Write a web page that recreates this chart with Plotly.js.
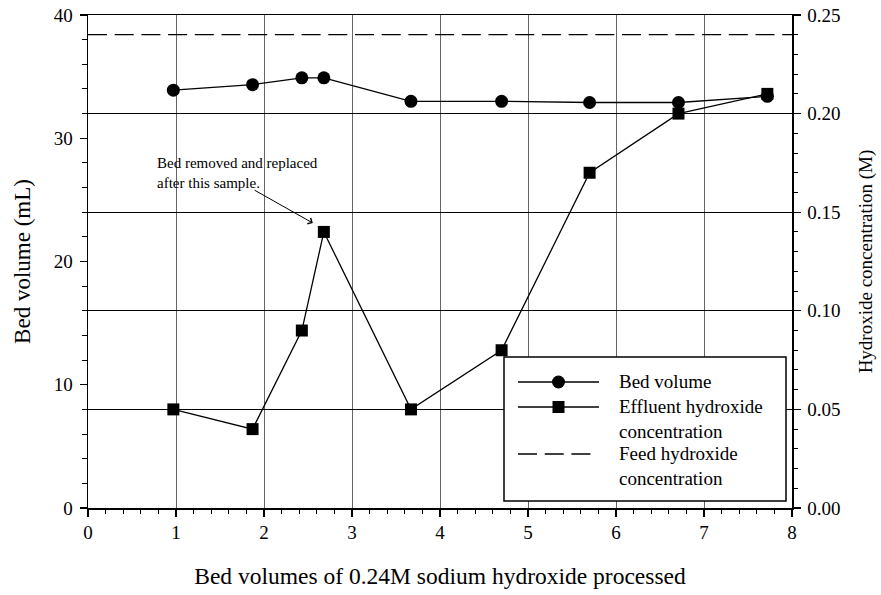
<!DOCTYPE html>
<html>
<head>
<meta charset="utf-8">
<script src="https://cdn.plot.ly/plotly-3.0.1.min.js"></script>
<style>html,body{margin:0;padding:0;background:#fff;}#chart{width:881px;height:595px;}</style>
</head>
<body>
<div id="chart"></div>
<script>
// ---- data ----
const bedVolumesProcessed = [0.97, 1.87, 2.43, 2.68, 3.67, 4.70, 5.70, 6.71, 7.72];
const bedVolumeML = [33.9, 34.35, 34.9, 34.9, 33.0, 33.0, 32.9, 32.9, 33.4];
const effluentOH = [0.05, 0.04, 0.09, 0.14, 0.05, 0.08, 0.17, 0.20, 0.21];
const feedX = [0, 8];
const feedOH = [0.24, 0.24];
const seriesNames = ["Bed volume", "Effluent hydroxide<br>concentration", "Feed hydroxide<br>concentration"];

const FONT = "Liberation Serif, Times New Roman, serif";
const DASH = "19px,7.7px";

const traces = [
  {x: feedX, y: feedOH, yaxis: 'y2', mode: 'lines', name: seriesNames[2],
   line: {color: '#000', width: 1.3, dash: DASH}, showlegend: false, hoverinfo: 'skip'},
  {x: bedVolumesProcessed, y: bedVolumeML, yaxis: 'y', mode: 'lines+markers', name: seriesNames[0],
   line: {color: '#000', width: 1.3}, marker: {symbol: 'circle', size: 13, color: '#000'}, showlegend: false},
  {x: bedVolumesProcessed, y: effluentOH, yaxis: 'y2', mode: 'lines+markers', name: seriesNames[1],
   line: {color: '#000', width: 1.3}, marker: {symbol: 'square', size: 12, color: '#000'}, showlegend: false}
];

// plot area in px: left 88, right 792, top 15, bottom 508
const L = 88, R = 792, T = 15, B = 508;
const px = v => (v - L) / (R - L);
const py = v => (B - v) / (B - T);

const shapes = [];
const annotations = [];
// legend box
shapes.push({type: 'rect', xref: 'paper', yref: 'paper', x0: px(504), x1: px(786), y0: py(501), y1: py(357),
  fillcolor: '#fff', line: {color: '#000', width: 1.5}, layer: 'above'});
const rowY = [382, 407, 454];
shapes.push({type: 'line', xref: 'paper', yref: 'paper', x0: px(518), x1: px(599), y0: py(rowY[0]), y1: py(rowY[0]), line: {color: '#000', width: 1.3}, layer: 'above'});
shapes.push({type: 'line', xref: 'paper', yref: 'paper', x0: px(518), x1: px(599), y0: py(rowY[1]), y1: py(rowY[1]), line: {color: '#000', width: 1.3}, layer: 'above'});
shapes.push({type: 'line', xref: 'paper', yref: 'paper', x0: px(518), x1: px(592), y0: py(rowY[2]), y1: py(rowY[2]), line: {color: '#000', width: 1.3, dash: DASH}, layer: 'above'});
shapes.push({type: 'circle', xref: 'paper', yref: 'paper', xsizemode: 'pixel', ysizemode: 'pixel',
  xanchor: px(558.5), yanchor: py(rowY[0]), x0: -6.5, x1: 6.5, y0: -6.5, y1: 6.5,
  fillcolor: '#000', line: {color: '#000', width: 0}, layer: 'above'});
shapes.push({type: 'rect', xref: 'paper', yref: 'paper', xsizemode: 'pixel', ysizemode: 'pixel',
  xanchor: px(558.5), yanchor: py(rowY[1]), x0: -6, x1: 6, y0: -6, y1: 6,
  fillcolor: '#000', line: {color: '#000', width: 0}, layer: 'above'});
seriesNames.forEach((n, i) => {
  annotations.push({xref: 'paper', yref: 'paper', x: px(617), y: py(rowY[i]), xanchor: 'left', yanchor: 'top',
    yshift: 13, text: n, showarrow: false, align: 'left', font: {family: FONT, size: 19, color: '#000'}});
});
// note and arrow
annotations.push({xref: 'paper', yref: 'paper', x: px(155), y: py(172.5), xanchor: 'left', yanchor: 'middle',
  text: 'Bed removed and replaced<br>after this sample.', showarrow: false, align: 'left',
  font: {family: FONT, size: 15, color: '#000'}});
annotations.push({xref: 'x', yref: 'y2', x: 2.555, y: 0.1445, axref: 'x', ayref: 'y2', ax: 1.876, ay: 0.1616,
  text: '', showarrow: true, arrowhead: 4, arrowsize: 1.3, arrowwidth: 1, arrowcolor: '#000', standoff: 0});

const layout = {
  width: 881, height: 595,
  margin: {l: L, r: 881 - R, t: T, b: 595 - B, pad: 0},
  paper_bgcolor: '#fff', plot_bgcolor: '#fff',
  font: {family: FONT, size: 19, color: '#000'},
  showlegend: false,
  xaxis: {
    range: [0, 8], dtick: 1, tick0: 0, showline: true, linecolor: '#000', linewidth: 1.5, mirror: true,
    ticks: 'outside', ticklen: 7, tickwidth: 1.3, tickcolor: '#000',
    showgrid: true, gridcolor: '#666', gridwidth: 1, zeroline: false,
    minor: {dtick: 0.2, ticks: 'outside', ticklen: 4, tickwidth: 1, tickcolor: '#000', showgrid: false},
    tickfont: {family: FONT, size: 19},
    title: {text: 'Bed volumes of 0.24M sodium hydroxide processed', font: {family: FONT, size: 23.5}, standoff: 25}
  },
  yaxis: {
    range: [0, 40], dtick: 10, showline: true, linecolor: '#000', linewidth: 1.5,
    ticks: 'outside', ticklen: 7, tickwidth: 1.3, tickcolor: '#000', showgrid: false, zeroline: false,
    minor: {dtick: 2, ticks: 'outside', ticklen: 5, tickwidth: 1, tickcolor: '#000', showgrid: false},
    tickfont: {family: FONT, size: 19}, ticklabelstandoff: 3,
    title: {text: 'Bed volume (mL)', font: {family: FONT, size: 23}, standoff: 16}
  },
  yaxis2: {
    range: [0, 0.25], dtick: 0.05, tickformat: '.2f', overlaying: 'y', side: 'right',
    showline: true, linecolor: '#000', linewidth: 1.5,
    ticks: 'outside', ticklen: 7, tickwidth: 1.3, tickcolor: '#000',
    showgrid: true, gridcolor: '#000', gridwidth: 1, zeroline: false,
    minor: {dtick: 0.01, ticks: 'outside', ticklen: 4, tickwidth: 1, tickcolor: '#000', showgrid: false},
    tickfont: {family: FONT, size: 19}, ticklabelstandoff: 3,
    title: {text: 'Hydroxide concentration (M)', font: {family: FONT, size: 19}, standoff: 19}
  },
  shapes: shapes,
  annotations: annotations
};

Plotly.newPlot('chart', traces, layout, {staticPlot: true, displayModeBar: false});
</script>
</body>
</html>
